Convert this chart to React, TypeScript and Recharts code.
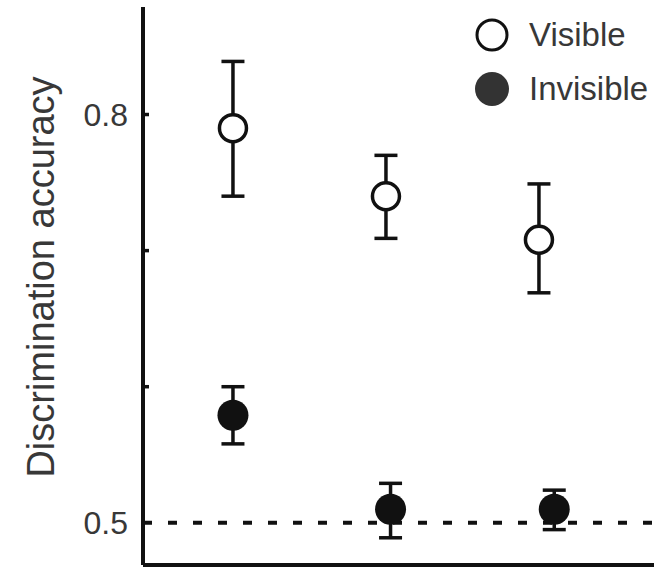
import {
  ErrorBar,
  Legend,
  ReferenceLine,
  Scatter,
  ScatterChart,
  XAxis,
  YAxis,
  Label,
} from "recharts";

// condition positions on the x axis (small jitter as in the figure)
const visibleX = [1, 2, 3];
const invisibleX = [1, 2.03, 3.1];

// mean accuracy and error bar bounds
const visibleMean = [0.79, 0.74, 0.708];
const visibleLow = [0.74, 0.709, 0.669];
const visibleHigh = [0.839, 0.77, 0.749];

const invisibleMean = [0.579, 0.51, 0.51];
const invisibleLow = [0.558, 0.489, 0.495];
const invisibleHigh = [0.6, 0.529, 0.524];

const yTicks = [0.5, 0.6, 0.7, 0.8];
const labelledTicks = [0.5, 0.8];

const INK = "#111";
const TEXT = "#383838";
const FONT = "'Liberation Sans', Arial, sans-serif";

const buildSeries = (
  xs: number[],
  mean: number[],
  low: number[],
  high: number[],
) =>
  xs.map((x, i) => ({
    x,
    y: mean[i],
    err: [mean[i] - low[i], high[i] - mean[i]],
  }));

const visibleData = buildSeries(visibleX, visibleMean, visibleLow, visibleHigh);
const invisibleData = buildSeries(
  invisibleX,
  invisibleMean,
  invisibleLow,
  invisibleHigh,
);

const OpenDot = (props: any) => (
  <circle cx={props.cx} cy={props.cy} r={13.5} fill="#fff" stroke={INK} strokeWidth={3.5} />
);

const FilledDot = (props: any) => (
  <circle cx={props.cx} cy={props.cy} r={15.5} fill={INK} />
);

const YTick = (props: any) => {
  const { x, y, payload } = props;
  const v = payload.value;
  return (
    <g>
      {v !== 0.5 && (
        <line x1={x} x2={x + 6} y1={y} y2={y} stroke={INK} strokeWidth={3.5} />
      )}
      {labelledTicks.includes(v) && (
        <text
          x={x - 15}
          y={y}
          dy={11}
          textAnchor="end"
          fontSize={32}
          fontFamily={FONT}
          fill={TEXT}
        >
          {v.toFixed(1)}
        </text>
      )}
    </g>
  );
};

const LegendBox = () => (
  <svg width={194} height={120}>
    <circle cx={32} cy={35} r={15} fill="#fff" stroke={INK} strokeWidth={3} />
    <text x={69} y={46} fontSize={33} fontFamily={FONT} fill={TEXT}>
      Visible
    </text>
    <circle cx={32} cy={89} r={17} fill="#333" />
    <text x={69} y={100} fontSize={33} fontFamily={FONT} fill={TEXT}>
      Invisible
    </text>
  </svg>
);

export default function App() {
  return (
    <div style={{ position: "absolute", left: 0, top: 0 }}>
      <ScatterChart
        width={654}
        height={567}
        margin={{ top: 7, right: 0, bottom: 0, left: 0 }}
      >
        <XAxis
          type="number"
          dataKey="x"
          domain={[0.412, 3.752]}
          allowDataOverflow
          tick={false}
          tickLine={false}
          height={2}
          axisLine={{ stroke: INK, strokeWidth: 4 }}
        />
        <YAxis
          type="number"
          dataKey="y"
          domain={[0.469, 0.879]}
          allowDataOverflow
          ticks={yTicks}
          width={143}
          tickSize={0}
          tickMargin={0}
          tickLine={false}
          tick={<YTick />}
          axisLine={{ stroke: INK, strokeWidth: 4 }}
        >
          <Label
            content={({ viewBox }: any) => {
              const cx = viewBox.x + 54;
              const cy = viewBox.y + viewBox.height / 2 - 9;
              return (
                <text
                  x={cx}
                  y={cy}
                  transform={`rotate(-90, ${cx}, ${cy})`}
                  textAnchor="middle"
                  fontSize={38}
                  fontFamily={FONT}
                  fill={TEXT}
                >
                  Discrimination accuracy
                </text>
              );
            }}
          />
        </YAxis>
        <ReferenceLine
          y={0.5}
          stroke={INK}
          strokeWidth={4}
          strokeDasharray="9 16"
        />
        <Legend
          layout="vertical"
          align="center"
          verticalAlign="middle"
          content={<LegendBox />}
          wrapperStyle={{ position: "absolute", left: 460, top: 0, width: 194 }}
        />
        <Scatter
          name="Visible"
          data={visibleData}
          shape={<OpenDot />}
          isAnimationActive={false}
        >
          <ErrorBar
            dataKey="err"
            direction="y"
            width={11.5}
            stroke={INK}
            strokeWidth={3.5}
          />
        </Scatter>
        <Scatter
          name="Invisible"
          data={invisibleData}
          shape={<FilledDot />}
          isAnimationActive={false}
        >
          <ErrorBar
            dataKey="err"
            direction="y"
            width={11.5}
            stroke={INK}
            strokeWidth={3.5}
          />
        </Scatter>
      </ScatterChart>
    </div>
  );
}
